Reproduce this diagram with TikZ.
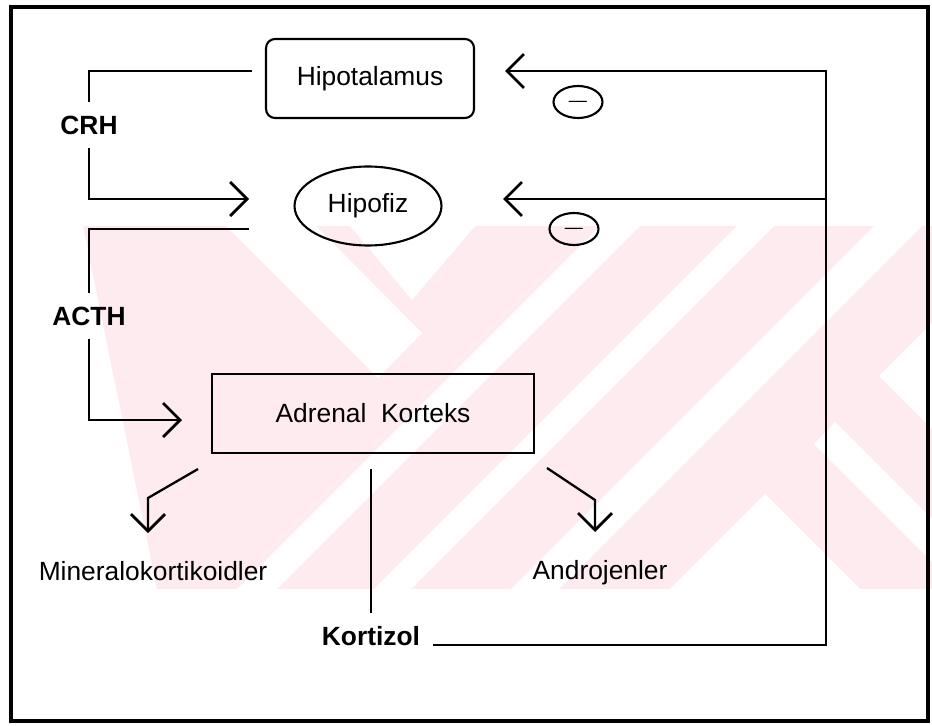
\documentclass[tikz,border=0pt]{standalone}
\usepackage{fontspec}
\setmainfont{Liberation Sans}
\usepackage{xcolor}
\usepackage{tikz}
\usetikzlibrary{arrows.meta,shapes.geometric,positioning}
\definecolor{wmpink}{HTML}{FDEBEF}

\begin{document}
\begin{tikzpicture}[x=0.02cm, y=-0.02cm, font=\fontsize{15}{18}\selectfont]
      \useasboundingbox (0,0) rectangle (932,726);

      \begin{scope}
          \clip (83,226) -- (932,226) -- (932,589) -- (157,589) -- cycle;
          \fill[wmpink] (0,226) rectangle (932,589);
          \fill[white] (226,226) -- (316,226) -- (422,333) -- (378,378) -- cycle;
          \fill[white] (350,226) -- (475,226) -- (412,300) -- cycle;
          \fill[white] (600,226) -- (640,226) -- (277,589) -- (237,589) -- cycle;
          \fill[white] (737,226) -- (774,226) -- (411,589) -- (374,589) -- cycle;
          \fill[white] (874,226) -- (922,226) -- (559,589) -- (511,589) -- cycle;
          \fill[white] (670,589) -- (765,494) -- (860,589) -- cycle;
          \fill[white] (814,444) -- (835,422) -- (932,519) -- (932,562) -- cycle;
          \fill[white] (879,376) -- (932,323) -- (932,429) -- cycle;
      \end{scope}

      \draw[line width=2pt] (11,7) rectangle (928,721);

      \begin{scope}[every node/.style={draw, line width=1.2pt, minimum height=1.58cm, inner sep=0}]
          \node[rounded corners=0.18cm, minimum width=4.16cm] (hipo) at (370,78.5) {Hipotalamus};
          \node[ellipse, minimum width=2.94cm] (hipof) at (368,206) {Hipofiz};
          \node[minimum width=6.44cm] (adrenal) at (373,413.5) {Adrenal\ \ Korteks};
      \end{scope}

      \begin{scope}[every node/.style={draw, ellipse, line width=1.2pt, minimum width=0.98cm,
                    minimum height=0.64cm, inner sep=0, font=\fontsize{17}{17}\selectfont}]
          \node (minusA) at (578,102) {$-$};
          \node (minusB) at (574,229) {$-$};
      \end{scope}

      \begin{scope}[every node/.style={font=\fontsize{15}{18}\selectfont\bfseries, minimum height=0.92cm, inner sep=0}]
          \node (crh) at (89,125) {CRH};
          \node (acth) at (89,316) {ACTH};
      \end{scope}
      \node[font=\fontsize{15}{18}\selectfont\bfseries, inner sep=0, anchor=base] (kortizol) at (371,645) {Kortizol};
      \node[inner sep=0, anchor=base] (mineral) at (153,580) {Mineralokortikoidler};
      \node[inner sep=0, anchor=base] (andro) at (600,579) {Androjenler};

      \coordinate (crhA) at (252,71);
      \coordinate (crhB) at (249,199);
      \coordinate (acthA) at (249,229);
      \coordinate (acthB) at (182,420);
      \coordinate (fbStart) at (433,645);
      \coordinate (fbTop) at (826,71);
      \coordinate (fbMid) at (826,199);
      \coordinate (hipoIn) at (505,71);
      \coordinate (hipofIn) at (503,199);
      \coordinate (minA) at (198,469);
      \coordinate (minB) at (148,498);
      \coordinate (minC) at (148,533);
      \coordinate (andA) at (547,468);
      \coordinate (andB) at (595,500);
      \coordinate (andC) at (595,532);

      \begin{scope}[>={Straight Barb[length=0.34cm, width=0.68cm, line width=1.6pt]}, line width=1.3pt]
          \draw (crhA) -| (crh.north);
          \draw [->] (crh.south) |- (crhB);
          \draw (acthA) -| (acth.north);
          \draw [->] (acth.south) |- (acthB);
          \draw [->] (minA) -- (minB) -- (minC);
          \draw [->] (andA) -- (andB) -- (andC);
          \draw [shorten <=0.3cm, shorten >=0.26cm] (kortizol.north |- adrenal.south) -- (kortizol.north);
          \draw [->] (fbStart) -| (fbTop) -- (hipoIn);
          \draw [->] (fbMid) -- (hipofIn);
      \end{scope}
\end{tikzpicture}
\end{document}
